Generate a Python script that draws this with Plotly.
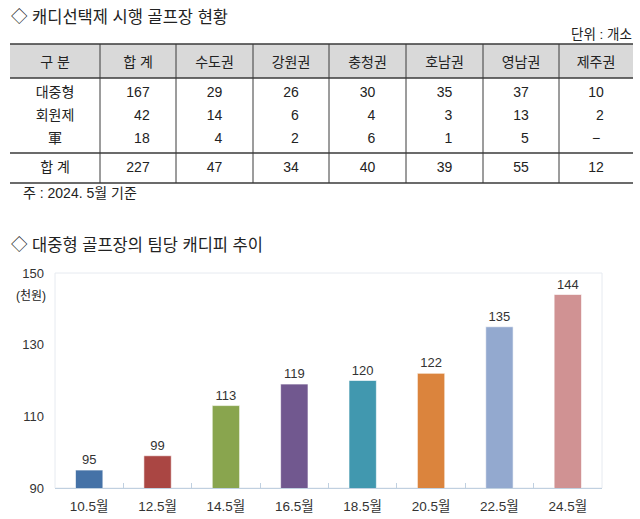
import plotly.graph_objects as go

# ---------------- data ----------------
header_labels = ["구 분", "합 계", "수도권", "강원권", "충청권", "호남권", "영남권", "제주권"]
row_labels = ["대중형", "회원제", "軍"]
public_cnt = [167, 29, 26, 30, 35, 37, 10]
member_cnt = [42, 14, 6, 4, 3, 13, 2]
military_cnt = [18, 4, 2, 6, 1, 5, None]
total_label = "합 계"
total_cnt = [227, 47, 34, 40, 39, 55, 12]

periods = ["10.5월", "12.5월", "14.5월", "16.5월", "18.5월", "20.5월", "22.5월", "24.5월"]
fees = [95, 99, 113, 119, 120, 122, 135, 144]
bar_colors = ["#4572A7", "#AA4643", "#89A54E", "#71588F", "#4198AF", "#DB843D", "#93A9CF", "#D09293"]
y_ticks = [90, 110, 130, 150]

# ---------------- helpers ----------------
W, H = 640, 519
FONT = "Liberation Sans, Noto Sans CJK KR, sans-serif"
FS = "\u2007"  # figure space for digit alignment


def px(x):
    return x / W


def py(y):
    return 1 - y / H


col_widths = [90, 76, 77, 76, 77, 77, 76, 74]
table_left = 10
table_right = table_left + sum(col_widths)

# column-wise strings, right-aligned within a centred block
data_rows = [public_cnt, member_cnt, military_cnt]
cols_data = [row_labels]
cols_total = [total_label]
for j in range(len(total_cnt)):
    vals = [r[j] for r in data_rows] + [total_cnt[j]]
    w = max(len(str(v)) for v in vals if v is not None)
    fmt = lambda v: "−" if v is None else FS * (w - len(str(v))) + str(v)
    cols_data.append([fmt(r[j]) for r in data_rows])
    cols_total.append(fmt(total_cnt[j]))

fig = go.Figure()

clear_line = dict(color="rgba(0,0,0,0)", width=0)
clear_fill = "rgba(0,0,0,0)"
txt_font = dict(family=FONT, size=14, color="#222222")

# header + data rows
fig.add_trace(go.Table(
    domain=dict(x=[px(table_left), px(table_right)], y=[py(152), py(48)]),
    columnwidth=col_widths,
    header=dict(values=header_labels, fill_color=clear_fill, line=clear_line,
                align="center", height=30, font=txt_font),
    cells=dict(values=cols_data, fill_color=clear_fill, line=clear_line,
               align="center", height=23, font=txt_font),
))
# total row
fig.add_trace(go.Table(
    domain=dict(x=[px(table_left), px(table_right)], y=[py(186), py(153)]),
    columnwidth=col_widths,
    header=dict(values=cols_total, fill_color=clear_fill, line=clear_line,
                align="center", height=30, font=txt_font),
    cells=dict(values=[[] for _ in cols_total], fill_color=clear_fill, line=clear_line, height=1),
))

# bar chart
fig.add_trace(go.Bar(
    x=periods, y=fees,
    marker=dict(color=bar_colors, line=dict(color="rgba(255,255,255,0.6)", width=1)),
    text=fees, textposition="outside", cliponaxis=False,
    textfont=dict(family=FONT, size=13, color="#333333"),
    width=0.4,
    xaxis="x", yaxis="y",
))

plot_x0, plot_x1 = 55, 602
plot_y0, plot_y1 = 273, 488

fig.update_layout(
    width=W, height=H,
    margin=dict(l=0, r=0, t=0, b=0),
    paper_bgcolor="white", plot_bgcolor="white",
    showlegend=False,
    font=dict(family=FONT, size=13, color="#333333"),
    xaxis=dict(domain=[px(plot_x0), px(plot_x1)], type="category", automargin=False,
               showline=True, linecolor="#C0D0E0", linewidth=1,
               ticks="inside", tickson="boundaries", ticklen=5, tickcolor="#C0D0E0",
               ticklabelstandoff=6,
               tickfont=dict(family=FONT, size=13.5, color="#333333"),
               showgrid=False, fixedrange=True),
    yaxis=dict(domain=[py(plot_y1), py(plot_y0)], range=[90, 150], automargin=False,
               tickvals=y_ticks, showgrid=False, zeroline=False,
               showline=False, ticks="", ticklabelstandoff=10,
               tickfont=dict(family=FONT, size=13, color="#333333"),
               fixedrange=True),
)

shapes = []
# header background
shapes.append(dict(type="rect", xref="paper", yref="paper",
                   x0=px(table_left), x1=px(table_right), y0=py(78), y1=py(44),
                   fillcolor="#D9D9D9", line=dict(width=0), layer="below"))
line_dark = dict(color="#3A3A3A", width=1.3)
for y in [44, 78, 153, 183]:
    shapes.append(dict(type="line", xref="paper", yref="paper",
                       x0=px(table_left), x1=px(table_right), y0=py(y), y1=py(y),
                       line=line_dark, layer="above"))
xb = table_left
for w in col_widths[:-1]:
    xb += w
    shapes.append(dict(type="line", xref="paper", yref="paper",
                       x0=px(xb), x1=px(xb), y0=py(44), y1=py(183),
                       line=dict(color="#3A3A3A", width=1), layer="above"))
# plot-area frame
shapes.append(dict(type="rect", xref="paper", yref="paper",
                   x0=px(plot_x0), x1=px(plot_x1), y0=py(plot_y1), y1=py(plot_y0),
                   line=dict(color="#E6EAF0", width=1), layer="below"))
fig.update_layout(shapes=shapes)

ann = [
    dict(text="◇ 캐디선택제 시행 골프장 현황", x=px(9), y=py(17), size=16.5, anchor="left"),
    dict(text="단위 : 개소", x=px(634), y=py(34), size=13.5, anchor="right"),
    dict(text="주 : 2024. 5월 기준", x=px(21), y=py(193), size=14, anchor="left"),
    dict(text="◇ 대중형 골프장의 팀당 캐디피 추이", x=px(9), y=py(245), size=16.5, anchor="left"),
    dict(text="(천원)", x=px(31), y=py(295), size=12, anchor="center"),
]
for a in ann:
    fig.add_annotation(text=a["text"], x=a["x"], y=a["y"], xref="paper", yref="paper",
                       xanchor=a["anchor"], yanchor="middle", showarrow=False,
                       font=dict(family=FONT, size=a["size"], color="#222222"))

fig.write_html("out.html")
